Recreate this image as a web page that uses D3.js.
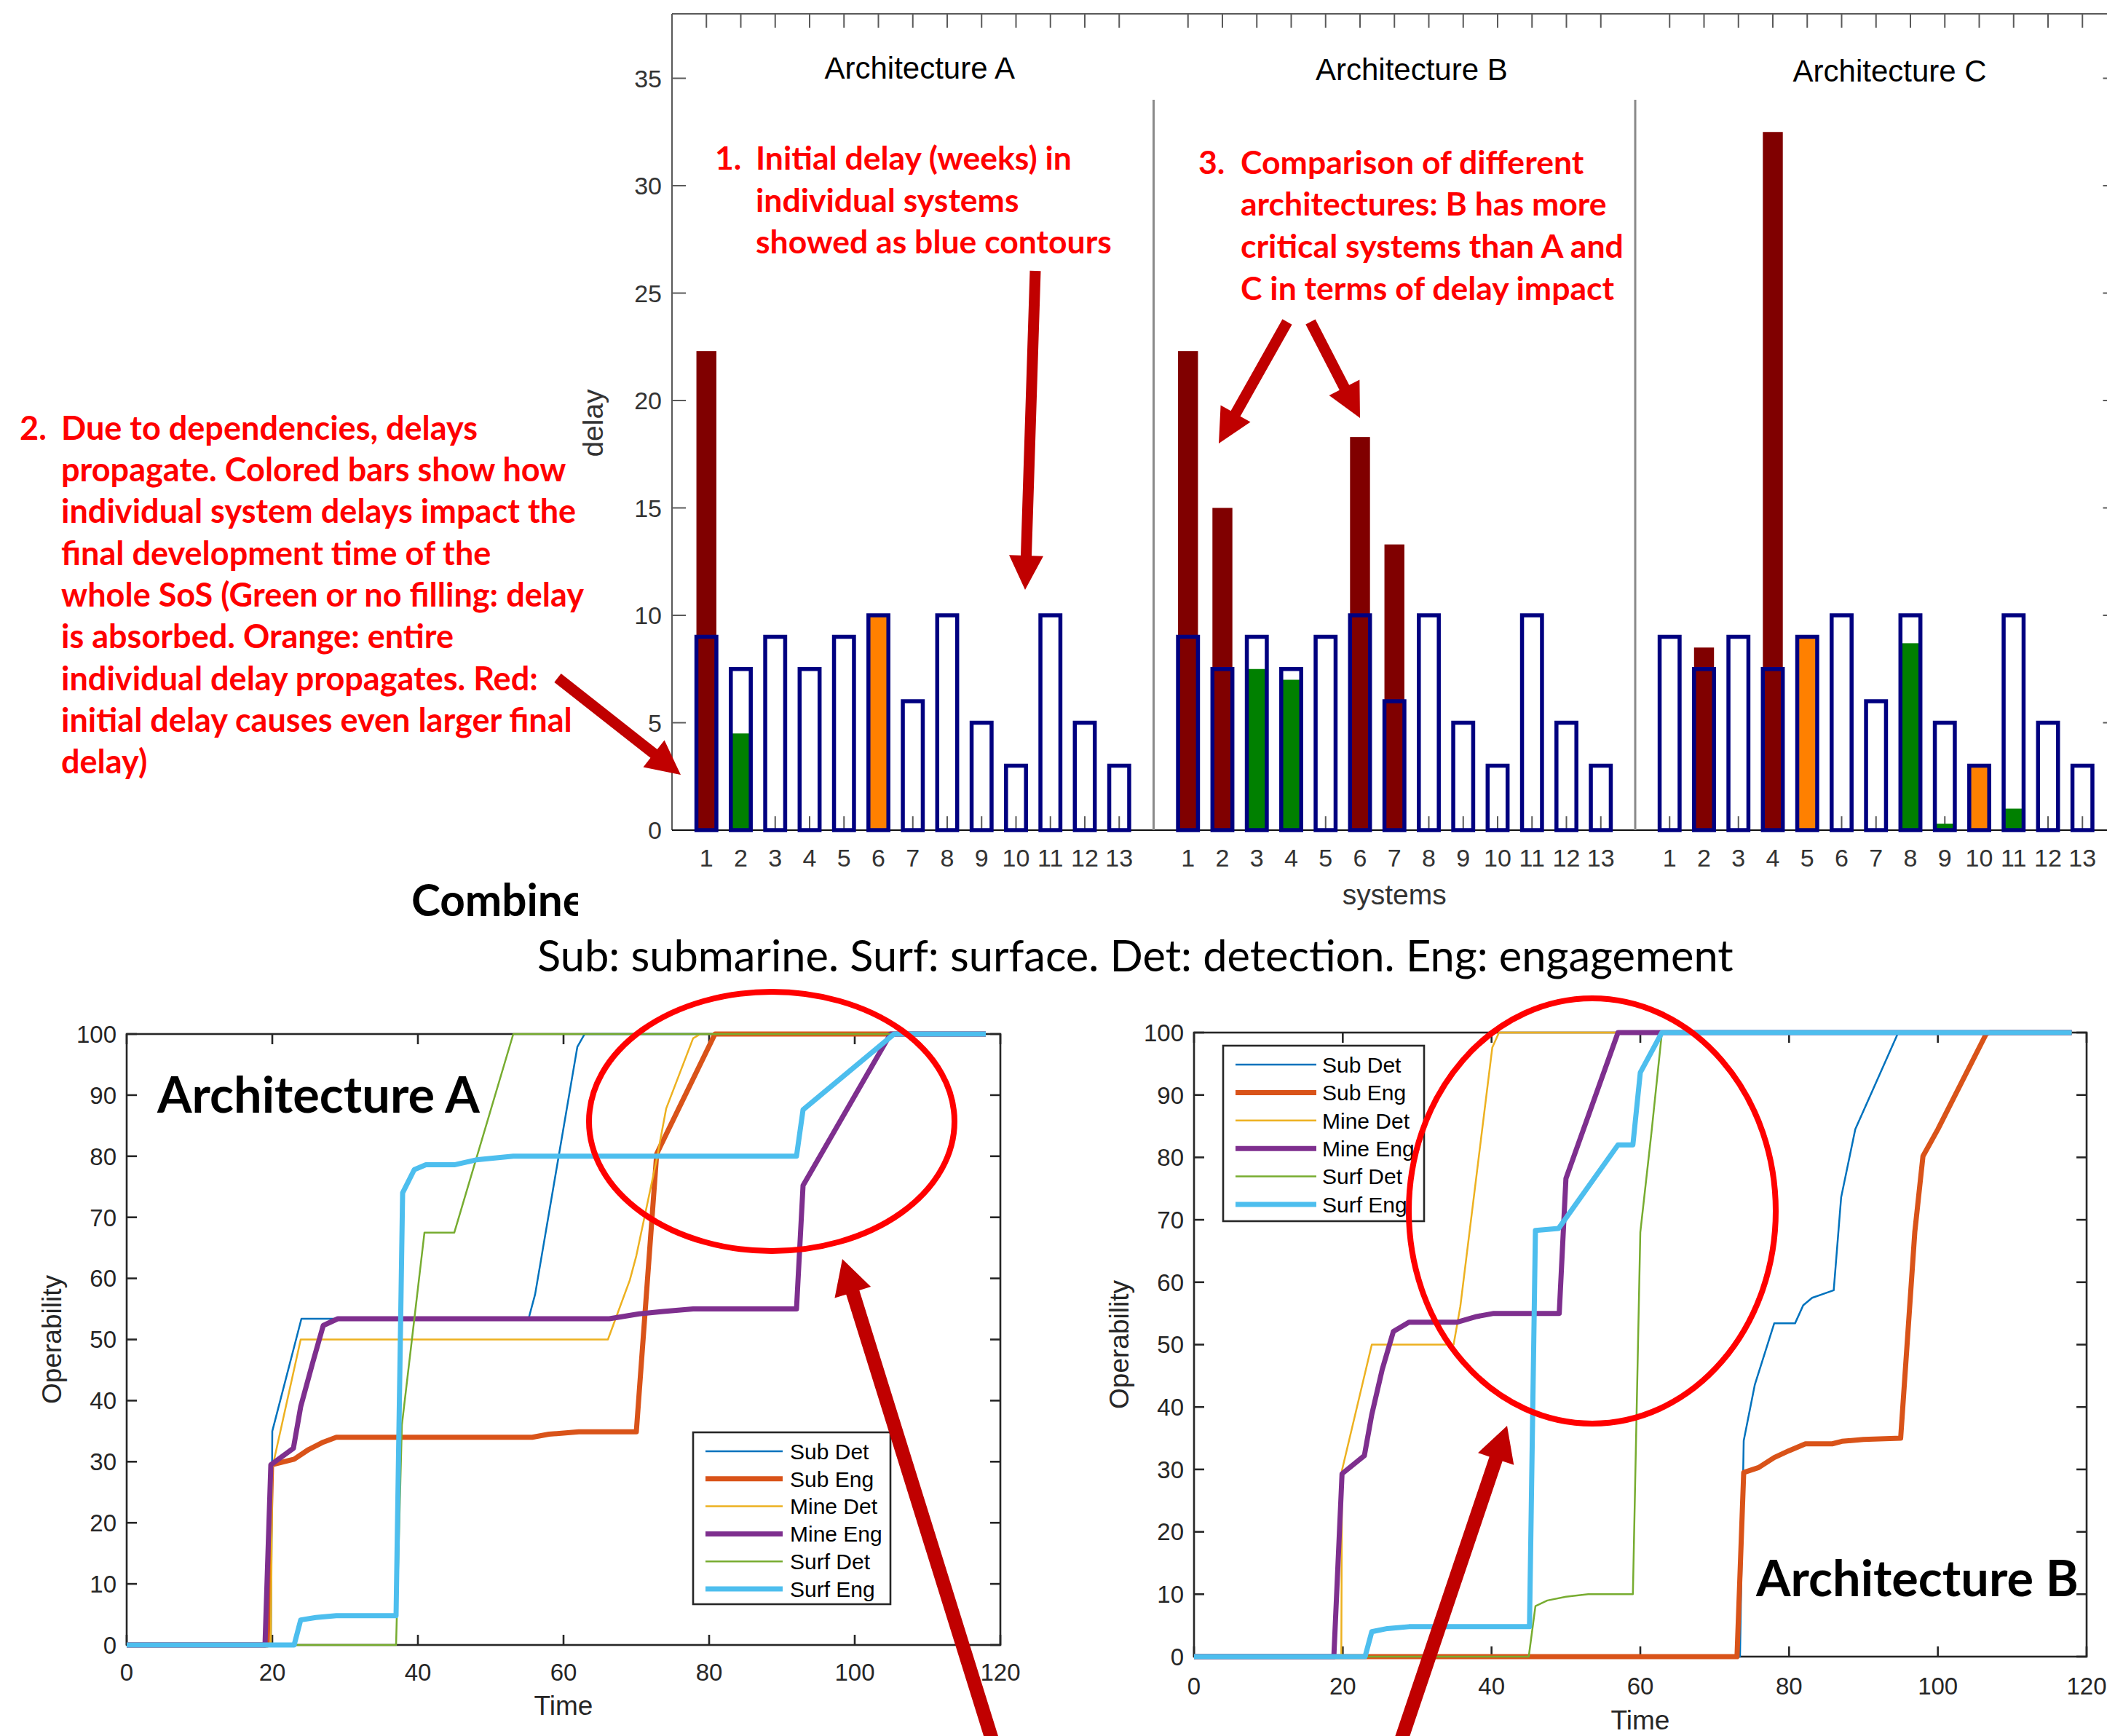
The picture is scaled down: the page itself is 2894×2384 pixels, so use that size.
<!DOCTYPE html>
<html><head><meta charset="utf-8">
<script src="https://cdn.jsdelivr.net/npm/d3@7"></script>
<style>html,body{margin:0;padding:0;background:#fff;} svg{display:block;}</style>
</head><body>
<svg id="chart" width="2894" height="2384"></svg>
<script>
// ================= DATA =================
const systemLabels = ["1","2","3","4","5","6","7","8","9","10","11","12","13"];
const architectureNames = ["Architecture A","Architecture B","Architecture C"];
const initialDelayA = [9,7.5,9,7.5,9,10,6,10,5,3,10,5,3];
const initialDelayB = [9,7.5,9,7.5,9,10,6,10,5,3,10,5,3];
const initialDelayC = [9,7.5,9,7.5,9,10,6,10,5,3,10,5,3];
const finalDelayA = [22.3,4.5,0,0,0,10,0,0,0,0,0,0,0];
const finalDelayB = [22.3,15,7.5,7,0,18.3,13.3,0,0,0,0,0,0];
const finalDelayC = [0,8.5,0,32.5,9,0,0,8.7,0.3,3,1,0,0];
const delayTicks = [0,5,10,15,20,25,30,35];

const seriesNames = ["Sub Det","Sub Eng","Mine Det","Mine Eng","Surf Det","Surf Eng"];
const timeTicks = [0,20,40,60,80,100,120];
const operabilityTicks = [0,10,20,30,40,50,60,70,80,90,100];

const aSubDet = [[0,0],[19.8,0],[20,35],[24,53.4],[55.2,53.4],[56.1,57.4],[61.9,97.9],[62.9,100],[118,100]];
const aSubEng = [[0,0],[19.3,0],[19.9,29.5],[23,30.4],[25,32],[27,33.2],[28.8,34],[55.7,34],[58,34.5],[62.1,34.9],[70,34.9],[72.8,80.4],[80.8,100],[118,100]];
const aMineDet = [[0,0],[19.8,0],[20,29],[23.9,50],[66.1,50],[69.1,59.7],[70,63.7],[72.8,79.5],[74.1,87.8],[77.8,99.3],[78.8,100],[118,100]];
const aMineEng = [[0,0],[19,0],[19.8,29.5],[22.9,32.2],[23.9,39],[25.5,46],[27,52.3],[29,53.4],[66.3,53.4],[70.4,54.2],[73.7,54.6],[77.8,55],[92,55],[92.9,75.2],[104.9,100],[118,100]];
const aSurfDet = [[0,0],[37,0],[37.8,36],[40.9,67.5],[45,67.5],[53.1,100],[118,100]];
const aSurfEng = [[0,0],[23,0],[23.9,4.1],[26,4.5],[28.8,4.8],[37,4.8],[37.9,74],[39.5,77.8],[41.1,78.6],[45,78.6],[48,79.4],[53.1,80],[92,80],[92.9,87.6],[105.4,100],[118,100]];

const bSubDet = [[0,0],[73.4,0],[73.9,34.6],[75.4,43.6],[78,53.4],[80.8,53.4],[81.9,56.3],[83.1,57.5],[86,58.7],[87,73.6],[88.9,84.5],[94.6,99.8],[95,100],[118,100]];
const bSubEng = [[0,0],[73,0],[73.9,29.5],[75.9,30.3],[78,31.9],[80,33],[82.2,34.1],[85.8,34.1],[87.1,34.5],[90,34.8],[95,35],[96.9,68],[98,80.2],[100,84.5],[106.5,99.8],[107,100],[118,100]];
const bMineDet = [[0,0],[19.8,0],[19.9,29.9],[23.9,50],[34.9,50],[35.8,56.1],[40.1,97.6],[41,100],[118,100]];
const bMineEng = [[0,0],[18.8,0],[19.9,29.3],[22.9,32.2],[23.9,38.8],[25.3,46],[26.8,52.1],[28.9,53.6],[35.4,53.6],[38,54.5],[40.3,55],[49.1,55],[50,76.6],[57,100],[118,100]];
const bSurfDet = [[0,0],[45,0],[45.9,8.1],[47.5,9],[50,9.6],[53,10],[59,10],[60,68],[61.5,84],[62.9,100],[118,100]];
const bSurfEng = [[0,0],[23,0],[23.9,4],[26,4.5],[28.9,4.8],[45.1,4.8],[45.9,68.3],[49,68.6],[57,82],[59,82],[60,93.6],[62.9,100],[118,100]];

const note1 = ["Initial delay (weeks) in","individual systems","showed as blue contours"];
const note2 = ["Due to dependencies, delays","propagate. Colored bars show how","individual system delays impact the","final development time of the","whole SoS (Green or no filling: delay","is absorbed. Orange: entire","individual delay propagates. Red:","initial delay causes even larger final","delay)"];
const note3 = ["Comparison of different","architectures: B has more","critical systems than A and","C in terms of delay impact"];

// ================= STYLE =================
const svg = d3.select("#chart");
const AX = "Liberation Sans, Arial, Helvetica, sans-serif";
const CAL = "Lato, Carlito, Calibri, sans-serif";
const seriesColors = ["#0072BD","#D95319","#EDB120","#7E2F8E","#77AC30","#4DBEEE"];
const seriesWidths = [2.5,7,2.5,7,2.5,7];
const arrowRed = "#C00000";

// ================= TOP BAR CHART =================
const topG = svg.append("g");
const xT = d3.scaleLinear().domain([0,42]).range([923, 923 + 42*47.25]);
const yT = d3.scaleLinear().domain([0,38]).range([1140, 19]);
const initials = [initialDelayA, initialDelayB, initialDelayC];
const finals = [finalDelayA, finalDelayB, finalDelayC];
const barData = [];
architectureNames.forEach((a,i)=>systemLabels.forEach((s,j)=>{
  barData.push({pos: 1 + 14*i + j, label: s, init: initials[i][j], fin: finals[i][j]});
}));
const frameCol = "#5a5a5a";
topG.append("line").attr("x1",xT(0)).attr("x2",xT(42)).attr("y1",yT(38)).attr("y2",yT(38)).attr("stroke",frameCol).attr("stroke-width",2);
topG.append("line").attr("x1",xT(0)).attr("x2",xT(0)).attr("y1",yT(38)).attr("y2",yT(0)).attr("stroke",frameCol).attr("stroke-width",2);
topG.append("line").attr("x1",xT(42)).attr("x2",xT(42)).attr("y1",yT(38)).attr("y2",yT(0)).attr("stroke",frameCol).attr("stroke-width",2);
const tl = 19;
delayTicks.forEach(t=>{
  topG.append("line").attr("x1",xT(0)).attr("x2",xT(0)+tl).attr("y1",yT(t)).attr("y2",yT(t)).attr("stroke",frameCol).attr("stroke-width",2);
  topG.append("line").attr("x1",xT(42)).attr("x2",xT(42)-tl).attr("y1",yT(t)).attr("y2",yT(t)).attr("stroke",frameCol).attr("stroke-width",2);
  topG.append("text").attr("x",xT(0)-14).attr("y",yT(t)).attr("dy","0.36em").attr("text-anchor","end")
    .attr("font-family",AX).attr("font-size",34).attr("fill","#333").text(t);
});
barData.forEach(d=>{
  topG.append("line").attr("x1",xT(d.pos)).attr("x2",xT(d.pos)).attr("y1",yT(38)).attr("y2",yT(38)+tl).attr("stroke",frameCol).attr("stroke-width",2);
  topG.append("line").attr("x1",xT(d.pos)).attr("x2",xT(d.pos)).attr("y1",yT(0)).attr("y2",yT(0)-tl).attr("stroke",frameCol).attr("stroke-width",2);
  topG.append("text").attr("x",xT(d.pos)).attr("y",1190).attr("text-anchor","middle")
    .attr("font-family",AX).attr("font-size",34).attr("fill","#333").text(d.label);
});
const bw = 0.58*47.25;
function fillColor(d){ return d.fin > d.init + 1e-9 ? "#800000" : (Math.abs(d.fin - d.init) < 1e-9 ? "#FF8000" : "#008000"); }
topG.append("g").selectAll("rect").data(barData.filter(d=>d.fin>0)).join("rect")
  .attr("x",d=>xT(d.pos)-bw/2).attr("width",bw)
  .attr("y",d=>yT(d.fin)).attr("height",d=>yT(0)-yT(d.fin))
  .attr("fill",fillColor);
topG.append("line").attr("x1",xT(0)).attr("x2",xT(42)).attr("y1",yT(0)).attr("y2",yT(0)).attr("stroke","#111").attr("stroke-width",2);
topG.append("g").selectAll("rect").data(barData).join("rect")
  .attr("x",d=>xT(d.pos)-bw/2).attr("width",bw)
  .attr("y",d=>yT(d.init)).attr("height",d=>yT(0)-yT(d.init))
  .attr("fill","none").attr("stroke","#000080").attr("stroke-width",5.5);
[14,28].forEach(p=>{
  topG.append("line").attr("x1",xT(p)).attr("x2",xT(p)).attr("y1",yT(34)).attr("y2",yT(0)).attr("stroke","#8a8a8a").attr("stroke-width",3);
});
const titlePos = [[7.2,35.0],[21.5,34.93],[35.4,34.85]];
architectureNames.forEach((n,i)=>{
  topG.append("text").attr("x",xT(titlePos[i][0])).attr("y",yT(titlePos[i][1])).attr("text-anchor","middle")
    .attr("font-family",AX).attr("font-size",42).attr("fill","#000").text(n);
});
topG.append("text").attr("x",xT(21)).attr("y",1242).attr("text-anchor","middle")
  .attr("font-family",AX).attr("font-size",39).attr("fill","#333").text("systems");
topG.append("text").attr("transform","translate(828,581) rotate(-90)").attr("text-anchor","middle")
  .attr("font-family",AX).attr("font-size",39).attr("fill","#333").text("delay");

// ================= LINE CHARTS =================
function lineChart(cfg){
  const g = svg.append("g");
  const x = d3.scaleLinear().domain([0,120]).range([cfg.x0, cfg.x1]);
  const y = d3.scaleLinear().domain([0,100]).range([cfg.y0, cfg.y1]);
  const ac = "#262626";
  g.append("rect").attr("x",x(0)).attr("y",y(100)).attr("width",x(120)-x(0)).attr("height",y(0)-y(100))
    .attr("fill","#fff").attr("stroke",ac).attr("stroke-width",2.6);
  const tk = 14;
  timeTicks.forEach(t=>{
    g.append("line").attr("x1",x(t)).attr("x2",x(t)).attr("y1",y(0)).attr("y2",y(0)-tk).attr("stroke",ac).attr("stroke-width",2.6);
    g.append("line").attr("x1",x(t)).attr("x2",x(t)).attr("y1",y(100)).attr("y2",y(100)+tk).attr("stroke",ac).attr("stroke-width",2.6);
    g.append("text").attr("x",x(t)).attr("y",y(0)+cfg.tickDy).attr("text-anchor","middle")
      .attr("font-family",AX).attr("font-size",33).attr("fill",ac).text(t);
  });
  operabilityTicks.forEach(t=>{
    g.append("line").attr("x1",x(0)).attr("x2",x(0)+tk).attr("y1",y(t)).attr("y2",y(t)).attr("stroke",ac).attr("stroke-width",2.6);
    g.append("line").attr("x1",x(120)).attr("x2",x(120)-tk).attr("y1",y(t)).attr("y2",y(t)).attr("stroke",ac).attr("stroke-width",2.6);
    g.append("text").attr("x",x(0)-14).attr("y",y(t)).attr("dy","0.36em").attr("text-anchor","end")
      .attr("font-family",AX).attr("font-size",33).attr("fill",ac).text(t);
  });
  g.append("text").attr("x",(x(0)+x(120))/2).attr("y",y(0)+cfg.labelDy).attr("text-anchor","middle")
    .attr("font-family",AX).attr("font-size",37).attr("fill",ac).text("Time");
  g.append("text").attr("transform",`translate(${cfg.ylabX},${(y(0)+y(100))/2}) rotate(-90)`).attr("text-anchor","middle")
    .attr("font-family",AX).attr("font-size",37).attr("fill",ac).text("Operability");
  const line = d3.line().x(d=>x(d[0])).y(d=>y(d[1]));
  cfg.series.forEach((s,i)=>{
    g.append("path").datum(s).attr("d",line).attr("fill","none")
      .attr("stroke",seriesColors[i]).attr("stroke-width",seriesWidths[i]).attr("stroke-linejoin","round");
  });
  const L = cfg.legend;
  g.append("rect").attr("x",L.x0).attr("y",L.y0).attr("width",L.x1-L.x0).attr("height",L.y1-L.y0)
    .attr("fill","#fff").attr("stroke",ac).attr("stroke-width",2.6);
  seriesNames.forEach((n,i)=>{
    const ry = L.row0 + i*L.dy;
    g.append("line").attr("x1",L.lx0).attr("x2",L.lx1).attr("y1",ry).attr("y2",ry)
      .attr("stroke",seriesColors[i]).attr("stroke-width",seriesWidths[i]);
    g.append("text").attr("x",L.tx).attr("y",ry).attr("dy","0.36em")
      .attr("font-family",AX).attr("font-size",30).attr("fill","#000").text(n);
  });
  return g;
}
lineChart({x0:174,x1:1374,y0:2259,y1:1420,tickDy:49,labelDy:96,ylabX:84,
  series:[aSubDet,aSubEng,aMineDet,aMineEng,aSurfDet,aSurfEng],
  legend:{x0:952,x1:1223,y0:1967,y1:2203,row0:1993,dy:37.8,lx0:969,lx1:1075,tx:1085}});
lineChart({x0:1640,x1:2866,y0:2275,y1:1418,tickDy:52,labelDy:100,ylabX:1550,
  series:[bSubDet,bSubEng,bMineDet,bMineEng,bSurfDet,bSurfEng],
  legend:{x0:1680,x1:1956,y0:1436,y1:1677,row0:1462,dy:38.4,lx0:1697,lx1:1808,tx:1816}});

// ================= TEXT HELPERS =================
function fitSize(text, family, weight, target){
  const t = svg.append("text").attr("font-family",family).attr("font-weight",weight).attr("font-size",100).text(text);
  const w = t.node().getComputedTextLength(); t.remove();
  return 100*target/w;
}
function block(lines, num, numX, textX, baselines, refIdx, refWidth){
  const fs = fitSize(lines[refIdx], CAL, 700, refWidth);
  const g = svg.append("g").attr("font-family",CAL).attr("font-weight",700).attr("fill","#FF0000").attr("font-size",fs);
  g.append("text").attr("x",numX).attr("y",baselines[0]).text(num);
  lines.forEach((l,i)=>g.append("text").attr("x",textX).attr("y",baselines[i]).text(l));
}
block(note1,"1.",982,1038,[233,291,348],2,489);
block(note2,"2.",27,84,[604,661,718,776,833,890,948,1005,1062],4,718);
block(note3,"3.",1646,1704,[239,296,354,412],2,526);

const fsBig = fitSize("Architecture A", CAL, 700, 443);
svg.append("text").attr("x",216).attr("y",1528).attr("font-family",CAL).attr("font-weight",700).attr("font-size",fsBig).attr("fill","#000").text("Architecture A");
svg.append("text").attr("x",2412).attr("y",2192).attr("font-family",CAL).attr("font-weight",700).attr("font-size",fsBig).attr("fill","#000").text("Architecture B");
svg.append("defs").append("clipPath").attr("id","cclip").append("rect").attr("x",0).attr("y",1150).attr("width",794).attr("height",150);
const fsComb = fitSize("Combine", CAL, 700, 240);
svg.append("text").attr("clip-path","url(#cclip)").attr("x",565).attr("y",1258).attr("font-family",CAL).attr("font-weight",700)
  .attr("font-size",fsComb).attr("fill","#000").text("Combine");
const subT = "Sub: submarine. Surf: surface. Det: detection. Eng: engagement";
const fsSub = fitSize(subT, CAL, 400, 1643);
svg.append("text").attr("x",738).attr("y",1334).attr("font-family",CAL).attr("font-weight",400)
  .attr("font-size",fsSub).attr("fill","#000").text(subT);

// ================= ELLIPSES & ARROWS =================
svg.append("ellipse").attr("cx",1060).attr("cy",1540).attr("rx",251).attr("ry",178)
  .attr("fill","none").attr("stroke","#FF0000").attr("stroke-width",8);
svg.append("ellipse").attr("cx",2187).attr("cy",1663).attr("rx",252).attr("ry",292)
  .attr("fill","none").attr("stroke","#FF0000").attr("stroke-width",8);

function arrow(x1,y1,x2,y2,shaft,headW,headL){
  const dx=x2-x1, dy=y2-y1, L=Math.hypot(dx,dy), ux=dx/L, uy=dy/L, px=-uy, py=ux;
  const bx=x2-ux*headL, by=y2-uy*headL, s=shaft/2, h=headW/2;
  const pts=[[x1+px*s,y1+py*s],[bx+px*s,by+py*s],[bx+px*h,by+py*h],[x2,y2],[bx-px*h,by-py*h],[bx-px*s,by-py*s],[x1-px*s,y1-py*s]];
  svg.append("polygon").attr("points",pts.map(p=>p.join(",")).join(" ")).attr("fill",arrowRed);
}
arrow(1422,372,1408,810,15,47,47);
arrow(766,931,935,1064,15,47,47);
arrow(1768,442,1674,609,15,47,47);
arrow(1800,442,1868,574,15,47,47);
arrow(1366,2400,1157,1729,19,52,48);
arrow(1921,2400,2070,1958,19,52,48);
</script>
</body></html>
